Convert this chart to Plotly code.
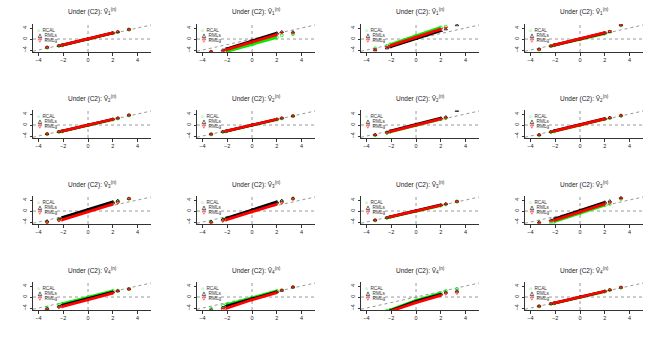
import plotly.graph_objects as go

# theoretical quantiles (shared x positions); indices 2..4 form the dense band
QX = [-3.3, -2.35, -2.1, 0.0, 2.0, 2.4, 3.3]
X_TICKS = [-4, -2, 0, 2, 4]
Y_TICKS = [-4, 0, 4]
SERIES = ["RCAL", "RMLs", "RMLg"]
SUBSCRIPTS = ["1", "2", "3", "4"]

# sample quantiles per panel (row-major, 16 panels), at QX
RCAL_Y = [
    [-3.1, -2.5, -2.3, -0.05, 2.1, 2.5, 3.4],
    [-5.0, -4.8, -4.6, -2.0, 0.6, 1.4, 1.8],
    [-3.4, -2.5, -2.0, 1.15, 4.2, 4.5, 6.0],
    [-3.8, -2.6, -2.3, -0.1, 2.0, 2.6, 5.0],
    [-3.3, -2.5, -2.3, -0.05, 2.0, 2.4, 3.5],
    [-3.4, -2.5, -2.3, -0.05, 2.0, 2.4, 3.2],
    [-3.7, -2.9, -2.5, -0.1, 2.1, 2.5, 6.0],
    [-3.7, -2.6, -2.3, -0.1, 2.1, 2.5, 3.3],
    [-4.0, -3.2, -2.9, 0.1, 2.9, 3.4, 4.5],
    [-4.1, -3.3, -2.9, 0.1, 2.9, 3.4, 4.5],
    [-3.4, -2.5, -2.2, -0.05, 2.0, 2.4, 3.4],
    [-4.6, -4.2, -3.9, -0.8, 2.1, 2.6, 4.4],
    [-3.9, -2.9, -2.5, -0.1, 2.2, 2.3, 2.9],
    [-4.2, -3.1, -2.8, -0.2, 2.2, 2.5, 3.6],
    [-6.0, -5.0, -4.7, -1.2, 1.45, 2.2, 2.9],
    [-3.4, -2.5, -2.3, -0.05, 2.0, 2.5, 3.4],
]
RMLS_Y = [
    [-3.0, -2.4, -2.2, 0.0, 2.2, 2.6, 3.5],
    [-4.5, -4.0, -3.6, -0.65, 2.15, 2.6, 2.5],
    [-4.0, -3.3, -2.9, 0.1, 3.0, 3.6, 5.1],
    [-3.7, -2.5, -2.2, 0.0, 2.2, 2.7, 5.1],
    [-3.2, -2.4, -2.2, 0.0, 2.1, 2.5, 3.6],
    [-3.3, -2.4, -2.2, 0.0, 2.1, 2.5, 3.3],
    [-3.5, -2.6, -2.2, 0.3, 2.5, 2.9, 5.2],
    [-3.5, -2.4, -2.1, 0.1, 2.3, 2.7, 3.5],
    [-3.7, -2.9, -2.4, 0.55, 3.3, 3.8, 4.5],
    [-3.8, -3.0, -2.6, 0.5, 3.3, 3.8, 4.6],
    [-3.3, -2.4, -2.1, 0.05, 2.2, 2.6, 3.5],
    [-4.0, -3.3, -2.9, 0.3, 3.2, 3.6, 4.8],
    [-4.2, -3.4, -3.0, -0.55, 1.8, 2.2, 2.9],
    [-4.6, -3.8, -3.4, -0.6, 1.9, 2.4, 3.6],
    [-6.0, -5.3, -5.0, -1.6, 1.0, 1.7, 2.2],
    [-3.3, -2.4, -2.2, 0.0, 2.1, 2.6, 3.5],
]
RMLG_Y = [
    [-3.0, -2.4, -2.2, 0.0, 2.2, 2.6, 3.5],
    [-4.6, -4.3, -3.9, -1.2, 1.6, 2.3, 2.2],
    [-3.8, -3.0, -2.5, 0.6, 3.6, 4.0, 6.0],
    [-3.7, -2.5, -2.2, 0.0, 2.3, 2.8, 5.1],
    [-3.2, -2.4, -2.2, 0.0, 2.1, 2.5, 3.6],
    [-3.3, -2.4, -2.2, 0.0, 2.1, 2.5, 3.3],
    [-3.6, -2.8, -2.4, 0.0, 2.2, 2.6, 6.0],
    [-3.6, -2.5, -2.2, 0.0, 2.2, 2.6, 3.4],
    [-4.2, -3.5, -3.2, -0.25, 2.5, 3.0, 4.5],
    [-4.3, -3.6, -3.2, -0.3, 2.5, 3.0, 4.4],
    [-3.3, -2.4, -2.1, 0.0, 2.1, 2.5, 3.5],
    [-4.3, -3.7, -3.4, -0.3, 2.6, 3.0, 4.6],
    [-4.6, -3.8, -3.5, -1.0, 1.45, 2.2, 2.9],
    [-5.0, -4.5, -4.1, -1.0, 1.6, 2.4, 3.6],
    [-6.0, -5.6, -5.2, -2.0, 0.6, 1.2, 1.45],
    [-3.3, -2.4, -2.2, 0.0, 2.1, 2.6, 3.5],
]

W, H = 656, 343
X_RANGE = [-4.44, 5.08]
Y_RANGE = [-4.7, 5.45]
COLORS = ["#00ee00", "#000000", "#ff0000"]
SYMBOLS = ["circle-open", "triangle-up-open", "triangle-down-open"]
GLYPHS = ["○", "△", "▽"]
FONT = "Liberation Sans, Arial, sans-serif"

fig = go.Figure()
layout = dict(width=W, height=H, margin=dict(l=0, r=0, t=0, b=0, autoexpand=False),
              paper_bgcolor="white", plot_bgcolor="white", showlegend=False,
              font=dict(family=FONT, color="#222"))
shapes, annotations = [], []

for i in range(16):
    r, c = divmod(i, 4)
    k = i + 1
    xa = "x" if k == 1 else f"x{k}"
    ya = "y" if k == 1 else f"y{k}"
    left = 33 + 164 * c
    top = 24 + 86 * r
    pw, ph = 118, 28
    xdom = [left / W, (left + pw) / W]
    ydom = [1 - (top + ph) / H, 1 - top / H]
    common = dict(showgrid=False, zeroline=False, showline=True, linecolor="#333",
                  linewidth=1, ticks="outside", ticklen=2.5, tickwidth=1,
                  tickcolor="#333", automargin=False,
                  tickfont=dict(size=5.5, family=FONT, color="#222"))
    layout["xaxis" if k == 1 else f"xaxis{k}"] = dict(
        domain=xdom, range=X_RANGE, tickvals=X_TICKS,
        anchor=ya, **common)
    layout["yaxis" if k == 1 else f"yaxis{k}"] = dict(
        domain=ydom, range=Y_RANGE, tickvals=Y_TICKS, tickangle=-90,
        anchor=xa, **common)

    # reference dotted lines
    dl = dict(color="#999999", width=1, dash="dot")
    shapes.append(dict(type="line", xref=xa, yref=ya, x0=X_RANGE[0], y0=X_RANGE[0],
                       x1=X_RANGE[1], y1=X_RANGE[1], line=dl, layer="below"))
    shapes.append(dict(type="line", xref=xa, yref=ya, x0=0, x1=0,
                       y0=Y_RANGE[0], y1=Y_RANGE[1], line=dl, layer="below"))
    shapes.append(dict(type="line", xref=xa, yref=ya, x0=X_RANGE[0], x1=X_RANGE[1],
                       y0=0, y1=0, line=dl, layer="below"))

    for s, ys in enumerate([RCAL_Y[i], RMLS_Y[i], RMLG_Y[i]]):
        fig.add_trace(go.Scatter(x=QX[2:5], y=ys[2:5], mode="lines", xaxis=xa, yaxis=ya,
                                 line=dict(color=COLORS[s], width=2.8), cliponaxis=True,
                                 hoverinfo="skip"))
        fig.add_trace(go.Scatter(x=QX, y=ys, mode="markers", xaxis=xa, yaxis=ya,
                                 marker=dict(color=COLORS[s], symbol=SYMBOLS[s], size=3,
                                             line=dict(width=0.8, color=COLORS[s])),
                                 cliponaxis=True, name=SERIES[s]))

    # panel title
    annotations.append(dict(
        xref="paper", yref="paper", x=(left + pw / 2) / W, y=1 - (top - 12) / H,
        xanchor="center", yanchor="middle", showarrow=False,
        text=f"Under (C2): V̂<sub>{SUBSCRIPTS[r]}</sub><sup>(n)</sup>",
        font=dict(size=6.5, family=FONT, color="#222")))
    # legend
    for s in range(3):
        annotations.append(dict(
            xref="paper", yref="paper", x=(left + 3) / W, y=1 - (top + 6.5 + 5.2 * s) / H,
            xanchor="left", yanchor="middle", showarrow=False, borderpad=0,
            text=(f'<span style="color:{COLORS[s]};font-weight:bold">{GLYPHS[s]}</span>'
                  f'  {SERIES[s]}'),
            font=dict(size=4.7, family=FONT, color="#333")))

layout["shapes"] = shapes
layout["annotations"] = annotations
fig.update_layout(**layout)
fig.write_html("out.html", config={"displayModeBar": False},
               post_script="document.body.style.margin='0';document.body.style.overflow='hidden';")
